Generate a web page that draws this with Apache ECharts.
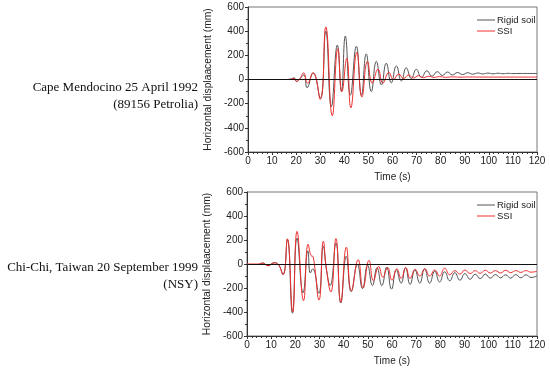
<!DOCTYPE html>
<html>
<head>
<meta charset="utf-8">
<script src="https://cdn.jsdelivr.net/npm/echarts@6/dist/echarts.min.js"></script>
<style>
html,body{margin:0;padding:0;background:#fff;}
#chart{width:550px;height:376px;}
</style>
</head>
<body>
<div id="chart"></div>
<script>
// ---- Data (time in s, displacement in mm) ----
var seriesNames = ['Rigid soil', 'SSI'];
var xTicks = [0, 10, 20, 30, 40, 50, 60, 70, 80, 90, 100, 110, 120];
var yTicks = [-600, -400, -200, 0, 200, 400, 600];
var panelTitles = [['Cape Mendocino 25 April 1992', '(89156 Petrolia)'], ['Chi-Chi, Taiwan 20 September 1999', '(NSY)']];

// Top panel: Cape Mendocino
var tTopRigid = [10, 16, 18, 19.1, 20.2, 21.3, 23.2, 24.5, 27, 30, 32.3, 34.6, 37.1, 38.8, 40.4, 42.5, 45, 47.1, 49.1, 51.2, 53.3, 55.4, 57.4, 59.5, 61.6, 63.7, 65.7, 67.8, 69.9, 72, 74.3, 76.4, 78.6, 80.7, 82.8, 84.9, 87, 89.1, 91.2, 93.3, 95.4, 97.5, 99.6, 101.7, 103.8, 105.9, 108, 110, 113, 116, 120];
var vTopRigid = [0, 0, 5, 15, -18, 0, 38, -68, 55, -155, 400, -225, 285, -100, 360, -130, 275, -130, 212, -100, 150, -45, 135, -28, 112, -12, 97, 8, 84, 18, 72, 27, 65, 33, 62, 38, 58, 41, 56, 44, 54, 46, 53, 47, 52, 48, 51, 49, 50, 50, 50];
var tTopSSI = [0, 16, 18, 19.1, 20.2, 21.5, 23.1, 24.7, 27, 30, 32.3, 35, 37.3, 39, 41, 42.7, 45.2, 47.3, 49.6, 51.6, 54, 56, 58.5, 60.4, 62.6, 64.6, 66.7, 68.7, 70.8, 72.8, 75, 77.2, 79.5, 82, 85, 88, 92, 96, 100, 120];
var vTopSSI = [0, 0, 3, 10, -15, 5, 55, -30, 55, -165, 435, -300, 255, -100, 175, -235, 225, -145, 150, -30, 85, -30, 58, 0, 45, 8, 38, 12, 32, 15, 27, 17, 24, 18, 22, 19, 21, 20, 20, 20];

// Bottom panel: Chi-Chi
var tBotRigid = [5, 6.6, 8.7, 11.2, 12.8, 14.9, 16.7, 18.8, 20.7, 23.2, 25.2, 26.2, 27.2, 29.7, 31.6, 32.8, 34.4, 36.8, 38.8, 41.1, 43.1, 45.7, 47.8, 49.9, 51.9, 53.8, 55.8, 57.8, 59.8, 61.8, 63.8, 65.6, 67.5, 69.5, 71.5, 73.5, 75.6, 77.7, 79.7, 81.8, 83.9, 86, 88.1, 90.2, 92.3, 94.4, 96.5, 98.6, 100.7, 102.8, 104.9, 107, 109.1, 111.2, 113.3, 115.4, 117.5, 120];
var vBotRigid = [0, 8, -15, 10, 0, -85, 205, -410, 215, -240, 110, -75, -40, -245, 150, -35, -180, 175, -325, 65, -230, -5, -205, -10, -180, -30, -180, -25, -210, -50, -160, -30, -170, -50, -160, -40, -160, -60, -150, -65, -140, -72, -135, -80, -128, -85, -122, -85, -118, -88, -115, -90, -118, -88, -115, -90, -112, -100];
var tBotSSI = [0, 5, 6.6, 8.7, 11.2, 12.8, 14.9, 16.7, 18.9, 20.7, 23.4, 25.3, 26.5, 27.4, 29.8, 31.6, 32.9, 34.7, 36.8, 38.8, 41.1, 43.2, 46, 48, 50.5, 52.3, 54.5, 56.2, 58.2, 60, 62, 63.8, 65.7, 67.5, 69.6, 71.5, 73.6, 75.6, 77.7, 79.7, 81.8, 83.9, 86, 88.1, 90.2, 92.3, 94.4, 96.5, 98.6, 100.7, 102.8, 104.9, 107, 109.1, 111.2, 113.3, 115.4, 117.5, 120];
var vBotSSI = [0, 0, 8, -15, 10, 0, -90, 210, -400, 272, -305, 165, 70, 60, -300, 190, -50, -233, 212, -320, 140, -225, 35, -200, 30, -140, -20, -110, -30, -135, -40, -120, -30, -120, -45, -100, -40, -100, -50, -100, -35, -90, -55, -85, -50, -80, -55, -78, -52, -75, -55, -75, -52, -72, -55, -70, -55, -68, -60];

function pairs(t, v) { return t.map(function (x, i) { return [x, v[i]]; }); }

var GRAY = '#555555', RED = '#ee2f2f';
var FONT = 'Liberation Sans, Arial, sans-serif';

function xAxisFor(idx) {
  return {
    type: 'value', gridIndex: idx, min: xTicks[0], max: xTicks[xTicks.length - 1], interval: 10,
    name: 'Time (s)', nameLocation: 'middle', nameGap: 20,
    nameTextStyle: { fontFamily: FONT, fontSize: 10, color: '#222' },
    axisLine: { show: true, onZero: false, lineStyle: { color: '#333', width: 1 } },
    axisTick: { show: true, inside: false, length: 3, lineStyle: { color: '#333' } },
    minorTick: { show: true, splitNumber: 5, length: 2, lineStyle: { color: '#333' } },
    axisLabel: { fontFamily: FONT, fontSize: 10, color: '#222', margin: 4 },
    splitLine: { show: false }
  };
}
function yAxisFor(idx) {
  return {
    type: 'value', gridIndex: idx, min: yTicks[0], max: yTicks[yTicks.length - 1], interval: 200,
    name: 'Horizontal displaacement (mm)', nameLocation: 'middle', nameGap: 32,
    nameTextStyle: { fontFamily: FONT, fontSize: 10.3, color: '#222' },
    axisLine: { show: true, onZero: false, lineStyle: { color: '#333', width: 1 } },
    axisTick: { show: true, inside: false, length: 3, lineStyle: { color: '#333' } },
    minorTick: { show: true, splitNumber: 2, length: 2, lineStyle: { color: '#333' } },
    axisLabel: { fontFamily: FONT, fontSize: 10, color: '#222', margin: 4 },
    splitLine: { show: false }
  };
}
function lineSeries(name, data, idx, color, withZero) {
  var s = {
    name: name, type: 'line', xAxisIndex: idx, yAxisIndex: idx, data: data,
    symbol: 'none', smooth: 0.5, lineStyle: { color: color, width: 1 }, itemStyle: { color: color },
    animation: false
  };
  if (withZero) {
    s.markLine = {
      silent: true, symbol: 'none', label: { show: false },
      lineStyle: { color: '#111', width: 1, type: 'solid' },
      data: [{ yAxis: 0 }]
    };
  }
  return s;
}
function legendFor(top) {
  return {
    data: seriesNames.map(function (n) { return { name: n, icon: 'rect' }; }),
    orient: 'vertical', left: 472, top: top,
    itemWidth: 18, itemHeight: 1, itemGap: 1,
    textStyle: { fontFamily: FONT, fontSize: 9.5, color: '#222', padding: [0, 0, 0, -3] },
    selectedMode: false
  };
}
function titleText(lines, y) {
  return lines.map(function (txt, i) {
    return {
      type: 'text', right: 550 - 198, top: y + i * 17,
      style: { text: txt, font: '13px "Liberation Serif", "Times New Roman", serif', fill: '#111', textAlign: 'right' }
    };
  });
}

var chart = echarts.init(document.getElementById('chart'), null, { renderer: 'canvas' });
chart.setOption({
  animation: false,
  backgroundColor: '#fff',
  grid: [
    { left: 248, top: 7, width: 289, height: 145, show: true, borderColor: '#777', borderWidth: 1, backgroundColor: 'transparent' },
    { left: 247, top: 192, width: 290, height: 144, show: true, borderColor: '#777', borderWidth: 1, backgroundColor: 'transparent' }
  ],
  xAxis: [xAxisFor(0), xAxisFor(1)],
  yAxis: [yAxisFor(0), yAxisFor(1)],
  legend: [legendFor(10), legendFor(195)],
  graphic: titleText(panelTitles[0], 81).concat(titleText(panelTitles[1], 261)),
  series: [
    lineSeries(seriesNames[0], pairs(tTopRigid, vTopRigid), 0, GRAY, true),
    lineSeries(seriesNames[1], pairs(tTopSSI, vTopSSI), 0, RED, false),
    lineSeries(seriesNames[0], pairs(tBotRigid, vBotRigid), 1, GRAY, true),
    lineSeries(seriesNames[1], pairs(tBotSSI, vBotSSI), 1, RED, false)
  ]
});
</script>
</body>
</html>
